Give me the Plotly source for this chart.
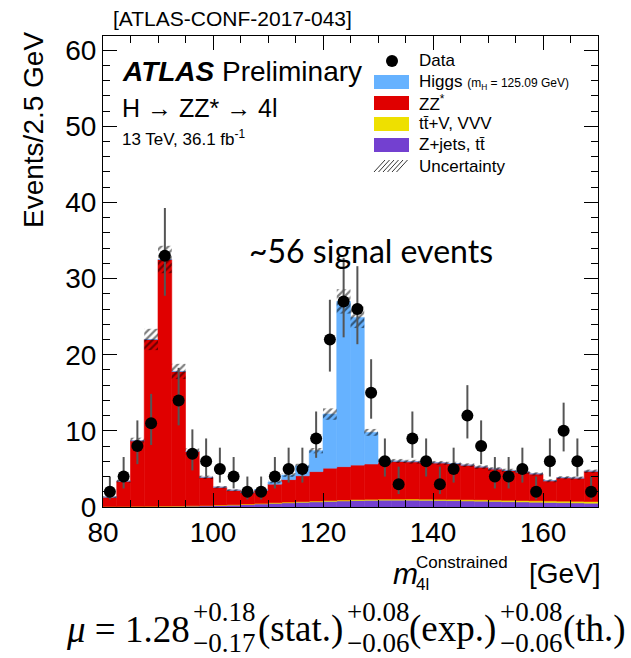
import numpy as np
import plotly.graph_objects as go

# ---------------- data ----------------
bin_lo = [80 + 2.5 * i for i in range(36)]
bin_width = 2.5

data_counts = [2, 4, 8, 11, 33, 14, 7, 6, 5, 4, 2, 2, 4, 5, 5, 9, 22, 27,
               26, 15, 6, 3, 9, 6, 3, 5, 12, 8, 4, 4, 5, 2, 6, 10, 6, 2]

zjets_tt = [0.05, 0.05, 0.06, 0.07, 0.08, 0.10, 0.12, 0.15, 0.20, 0.25, 0.32, 0.40,
            0.48, 0.55, 0.62, 0.68, 0.74, 0.80, 0.85, 0.88, 0.90, 0.90, 0.90, 0.88,
            0.86, 0.84, 0.80, 0.77, 0.74, 0.70, 0.67, 0.63, 0.60, 0.57, 0.54, 0.50]

ttv_vvv = [0.02, 0.02, 0.03, 0.03, 0.04, 0.04, 0.05, 0.05, 0.06, 0.06, 0.07, 0.08,
           0.09, 0.10, 0.10, 0.11, 0.12, 0.12, 0.13, 0.13, 0.14, 0.14, 0.15, 0.15,
           0.15, 0.16, 0.16, 0.17, 0.17, 0.18, 0.18, 0.19, 0.20, 0.20, 0.21, 0.22]

zz = [1.23, 3.33, 8.61, 21.9, 32.38, 17.66, 7.13, 3.70, 2.34, 1.89, 1.51, 1.72,
      2.43, 2.95, 3.38, 3.86, 4.24, 4.38, 4.52, 4.64, 4.86, 4.96, 4.90, 4.82,
      4.79, 4.70, 4.54, 4.31, 4.09, 3.92, 3.75, 3.53, 2.65, 3.08, 3.05, 3.98]

higgs = [0, 0, 0, 0, 0, 0, 0, 0, 0, 0, 0.03, 0.08,
         0.3, 0.6, 1.3, 2.75, 7.1, 21.7, 19.4, 4.15, 0.2, 0.05, 0, 0,
         0, 0, 0, 0, 0, 0, 0, 0, 0, 0, 0, 0]

uncertainty = [0.1, 0.2, 0.4, 1.4, 1.8, 1.0, 0.4, 0.22, 0.15, 0.13, 0.12, 0.13,
               0.2, 0.25, 0.28, 0.35, 0.75, 1.6, 1.4, 0.45, 0.28, 0.26, 0.25, 0.25,
               0.25, 0.24, 0.24, 0.23, 0.23, 0.22, 0.22, 0.21, 0.2, 0.2, 0.2, 0.22]

x_ticks = [80, 100, 120, 140, 160]
y_ticks = [0, 10, 20, 30, 40, 50, 60]

# ---------------- derived ----------------
centers = np.array(bin_lo) + bin_width / 2
c_zj = np.array(zjets_tt)
c_tv = c_zj + np.array(ttv_vvv)
c_zz = c_tv + np.array(zz)
c_h = c_zz + np.array(higgs)
unc = np.array(uncertainty)
n = np.array(data_counts, dtype=float)
err_up = np.sqrt(n + 0.25) + 0.5
err_dn = np.sqrt(n + 0.25) - 0.5

C_H = "#66b2ff"
C_ZZ = "#e00000"
C_TV = "#eee000"
C_ZJ = "#7340d0"

fig = go.Figure()

def stack_bar(top, base, color, name):
    fig.add_trace(go.Bar(x=centers, y=top - base, base=base, width=bin_width,
                         marker=dict(color=color, line=dict(width=0.6, color=color)),
                         name=name, showlegend=False, hoverinfo="skip"))

stack_bar(c_zj, np.zeros_like(c_zj), C_ZJ, "Z+jets, tt")
stack_bar(c_tv, c_zj, C_TV, "ttV, VVV")
stack_bar(c_zz, c_tv, C_ZZ, "ZZ*")
stack_bar(c_h, c_zz, C_H, "Higgs")

fig.add_trace(go.Bar(x=centers, y=2 * unc, base=c_h - unc, width=bin_width,
                     marker=dict(color="rgba(0,0,0,0)", line=dict(width=0),
                                 pattern=dict(shape="/", fgcolor="black", bgcolor="rgba(0,0,0,0)",
                                              size=5, solidity=0.45)),
                     showlegend=False, hoverinfo="skip"))

fig.add_trace(go.Scatter(x=centers, y=n, mode="markers",
                         marker=dict(color="black", size=12),
                         error_y=dict(type="data", array=err_up, arrayminus=err_dn,
                                      color="#555555", thickness=2, width=0),
                         showlegend=False, hoverinfo="skip"))

# ---------------- layout ----------------
X0, X1, YT, YB = 103, 598, 36, 507
def px(x):
    return (x - X0) / (X1 - X0)
def py(y):
    return (YB - y) / (YB - YT)

FONT = "Liberation Sans"
SERIF = "Liberation Serif"

fig.update_layout(
    width=631, height=658, barmode="overlay",
    margin=dict(l=X0, r=631 - X1, t=YT, b=658 - YB, pad=0),
    paper_bgcolor="white", plot_bgcolor="white",
    font=dict(family=FONT, color="black"),
    showlegend=False,
)

axis_common = dict(showline=True, linecolor="black", linewidth=1.2, mirror="allticks",
                   ticks="inside", ticklen=14, tickwidth=1, tickcolor="black",
                   showgrid=False, zeroline=False,
                   tickfont=dict(family=FONT, size=28, color="black"))
fig.update_xaxes(range=[80, 170], tickmode="array", tickvals=x_ticks,
                 ticktext=[str(v) for v in x_ticks],
                 minor=dict(ticks="inside", ticklen=7, dtick=5, tick0=80, tickcolor="black", showgrid=False),
                 **axis_common)
fig.update_yaxes(range=[0, 61.85], tickmode="array", tickvals=y_ticks,
                 ticktext=[str(v) for v in y_ticks],
                 minor=dict(ticks="inside", ticklen=7, dtick=2, tick0=0, tickcolor="black", showgrid=False),
                 **axis_common)

ann = []
def text(x, y, s, size, family=FONT, xanchor="left", yanchor="middle", angle=0, color="black"):
    ann.append(dict(x=px(x), y=py(y), xref="paper", yref="paper", text=s, showarrow=False,
                    xanchor=xanchor, yanchor=yanchor, textangle=angle,
                    font=dict(family=family, size=size, color=color)))

text(111, 18, "[ATLAS-CONF-2017-043]", 21)
text(33, 30, "Events/2.5 GeV", 28, xanchor="center", yanchor="top", angle=-90)
text(120, 71, "<b><i>ATLAS</i></b> Preliminary", 28)
text(120, 108, "H \u2192 ZZ* \u2192 4l", 25)
text(120, 138, "13 TeV, 36.1 fb<sup>-1</sup>", 17)
text(247, 250, "~56 signal events", 32, family="Lato")

# x-axis title
text(391, 573, "<i>m</i>", 30)
text(414, 562, "Constrained", 17)
text(414, 584, "4l", 17)
text(527, 573, "[GeV]", 28)

# legend
rows = [61, 82, 103, 124, 145, 166]
labels = ["Data",
          "Higgs <span style='font-size:12px'>(m<sub>H</sub> = 125.09 GeV)</span>",
          "ZZ<sup>*</sup>",
          "tt\u0304+V, VVV",
          "Z+jets, tt\u0304",
          "Uncertainty"]
for r, lab in zip(rows, labels):
    text(417, r, lab, 17)

shapes = []
shapes.append(dict(type="circle", xref="paper", yref="paper", xsizemode="pixel", ysizemode="pixel",
                   xanchor=px(392), yanchor=py(rows[0]), x0=-6, x1=6, y0=-6, y1=6,
                   fillcolor="black", line=dict(width=0)))
for r, c in zip(rows[1:5], [C_H, C_ZZ, C_TV, C_ZJ]):
    shapes.append(dict(type="rect", xref="paper", yref="paper",
                       x0=px(374), x1=px(409), y0=py(r + 7), y1=py(r - 7),
                       fillcolor=c, line=dict(width=0)))
r = rows[5]
for i in range(6):
    xa = 374 + i * 4.5
    shapes.append(dict(type="line", xref="paper", yref="paper",
                       x0=px(xa), y0=py(r + 6), x1=px(xa + 11), y1=py(r - 6),
                       line=dict(color="#333", width=1)))

# formula
F, f = 37, 27
text(64, 629, "<i>\u03bc</i> = 1.28", F, family=SERIF)
text(191, 612, "+0.18", f, family=SERIF)
text(191, 643, "\u22120.17", f, family=SERIF)
text(256, 629, "(stat.)", F, family=SERIF)
text(345, 612, "+0.08", f, family=SERIF)
text(345, 643, "\u22120.06", f, family=SERIF)
text(407, 629, "(exp.)", F, family=SERIF)
text(498, 612, "+0.08", f, family=SERIF)
text(498, 643, "\u22120.06", f, family=SERIF)
text(561, 629, "(th.)", F, family=SERIF)

fig.update_layout(annotations=ann, shapes=shapes)
fig.write_html("out.html")
